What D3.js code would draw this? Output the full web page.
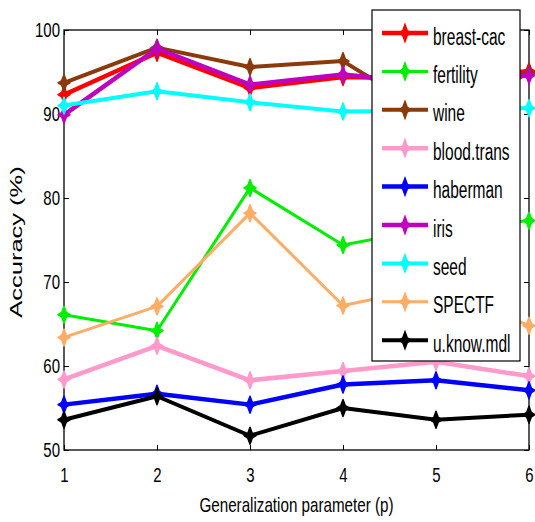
<!DOCTYPE html>
<html lang="en">

<head>
    <meta charset="UTF-8">
    <title>Accuracy vs generalization parameter</title>
    <script src="https://d3js.org/d3.v7.min.js"></script>
    <style>
        body { margin: 0; background: #fff; }
        svg text { font-family: "Liberation Sans", Arial, sans-serif; fill: #000; }
    </style>
</head>

<body>
    <div id="graphe"></div>
    <script>
        // ---------------------------------donnees------------------------------------------------------
        var pValues = [1, 2, 3, 4, 5, 6];
        var yTicks = [50, 60, 70, 80, 90, 100];

        var datasets = ["breast-cac", "fertility", "wine", "blood.trans", "haberman", "iris", "seed", "SPECTF", "u.know.mdl"];

        var breastCac = [92.3, 97.3, 93.1, 94.4, 94.2, 95.1];
        var fertility = [66.1, 64.2, 81.2, 74.4, 76.5, 77.3];
        var wine = [93.7, 97.9, 95.6, 96.3, 89.5, 94.9];
        var bloodTrans = [58.4, 62.4, 58.3, 59.4, 60.5, 58.8];
        var haberman = [55.4, 56.7, 55.4, 57.8, 58.3, 57.1];
        var iris = [89.9, 97.8, 93.5, 94.7, 93.6, 94.6];
        var seed = [91.0, 92.7, 91.4, 90.3, 90.4, 90.7];
        var spectf = [63.4, 67.1, 78.2, 67.2, 69.5, 64.8];
        var uKnowMdl = [53.6, 56.4, 51.7, 55.0, 53.6, 54.2];

        var series = [breastCac, fertility, wine, bloodTrans, haberman, iris, seed, spectf, uKnowMdl];

        // couleurs et epaisseurs (meme ordre que datasets)
        var couleurs = ["#ff0000", "#00ee00", "#8b3a0c", "#ff9acb", "#0000ff", "#bf00bf", "#00ffff", "#ffad66", "#000000"];
        var epaisseurs = [4.5, 3, 4, 4.5, 4.5, 4.5, 4, 3, 4];

        // ---------------------------------mise en page-------------------------------------------------
        var W = 535, H = 522;
        var gauche = 64, droite = 529, haut = 30, bas = 450;

        var svg = d3.select("#graphe").append("svg").attr("width", W).attr("height", H);

        var x = d3.scaleLinear().domain([1, 6]).range([gauche, droite]);
        var y = d3.scaleLinear().domain([50, 100]).range([bas, haut]);

        // texte etire verticalement comme sur l'image d'origine
        function etire(sel, k) {
            sel.each(function() {
                var t = d3.select(this);
                t.attr("transform", "scale(1," + k + ")");
            });
        }

        // ---------------------------------axes----------------------------------------------------------
        var axeG = svg.append("g").attr("transform", "translate(" + gauche + ",0)")
            .call(d3.axisLeft(y).tickValues(yTicks).tickSize(-5).tickSizeOuter(0).tickPadding(4));
        axeG.selectAll("text").style("font-size", "15px").attr("dy", "0.34em");
        etire(axeG.selectAll("text"), 1.35);

        var axeB = svg.append("g").attr("transform", "translate(0," + bas + ")")
            .call(d3.axisBottom(x).tickValues(pValues).tickFormat(d3.format("d")).tickSize(-5).tickSizeOuter(0));
        axeB.selectAll("text").style("font-size", "15px").attr("y", 23.5).attr("dy", 0);
        etire(axeB.selectAll("text"), 1.35);

        svg.append("g").attr("transform", "translate(" + droite + ",0)")
            .call(d3.axisRight(y).tickValues(yTicks).tickSize(-5).tickSizeOuter(0).tickFormat(""));
        svg.append("g").attr("transform", "translate(0," + haut + ")")
            .call(d3.axisTop(x).tickValues(pValues).tickSize(-5).tickSizeOuter(0).tickFormat(""));

        svg.selectAll(".domain").remove();
        svg.selectAll(".tick line").attr("stroke", "#000").attr("stroke-width", 1);

        svg.append("rect")
            .attr("x", gauche).attr("y", haut)
            .attr("width", droite - gauche).attr("height", bas - haut)
            .attr("fill", "none").attr("stroke", "#000").attr("stroke-width", 1.3);

        // titres des axes
        svg.append("text")
            .attr("transform", "translate(" + ((gauche + droite) / 2) + ",512) scale(1,1.38)")
            .attr("text-anchor", "middle")
            .style("font-size", "15.2px")
            .text("Generalization parameter (p)");

        svg.append("text")
            .attr("transform", "translate(22,242) rotate(-90) scale(1.5,1)")
            .attr("text-anchor", "middle")
            .style("font-size", "17px")
            .text("Accuracy (%)");

        // ---------------------------------courbes------------------------------------------------------
        var marqueur = "M0,-8.5 L2.3,-2.3 L6,0 L2.3,2.3 L0,8.5 L-2.3,2.3 L-6,0 L-2.3,-2.3 Z";

        var ligne = d3.line()
            .x(function(d, i) { return x(pValues[i]); })
            .y(function(d) { return y(d); });

        series.forEach(function(valeurs, s) {
            var g = svg.append("g");
            g.append("path")
                .attr("d", ligne(valeurs))
                .attr("fill", "none")
                .attr("stroke", couleurs[s])
                .attr("stroke-width", epaisseurs[s])
                .attr("stroke-linejoin", "round");
            g.selectAll("path.pt")
                .data(valeurs)
                .enter().append("path")
                .attr("class", "pt")
                .attr("d", marqueur)
                .attr("transform", function(d, i) { return "translate(" + x(pValues[i]) + "," + y(d) + ")"; })
                .attr("fill", couleurs[s])
                .attr("stroke", couleurs[s])
                .attr("stroke-width", 1.5)
                .attr("stroke-linejoin", "round");
        });

        // ---------------------------------legende------------------------------------------------------
        var legX = 372, legY = 10, legW = 148, legH = 351;
        var pas = 38.4, premier = 33;

        svg.append("rect")
            .attr("x", legX).attr("y", legY).attr("width", legW).attr("height", legH)
            .attr("fill", "#fff").attr("stroke", "#000").attr("stroke-width", 1.2);

        datasets.forEach(function(nom, s) {
            var yy = premier + s * pas;
            svg.append("line")
                .attr("x1", 382).attr("x2", 428).attr("y1", yy).attr("y2", yy)
                .attr("stroke", couleurs[s]).attr("stroke-width", epaisseurs[s]);
            svg.append("path")
                .attr("d", marqueur)
                .attr("transform", "translate(405," + yy + ")")
                .attr("fill", couleurs[s]).attr("stroke", couleurs[s]).attr("stroke-width", 1.5);
            svg.append("text")
                .attr("transform", "translate(433," + (yy + 11.5) + ") scale(1,1.6)")
                .style("font-size", "15.5px")
                .text(nom);
        });
    </script>
</body>

</html>
